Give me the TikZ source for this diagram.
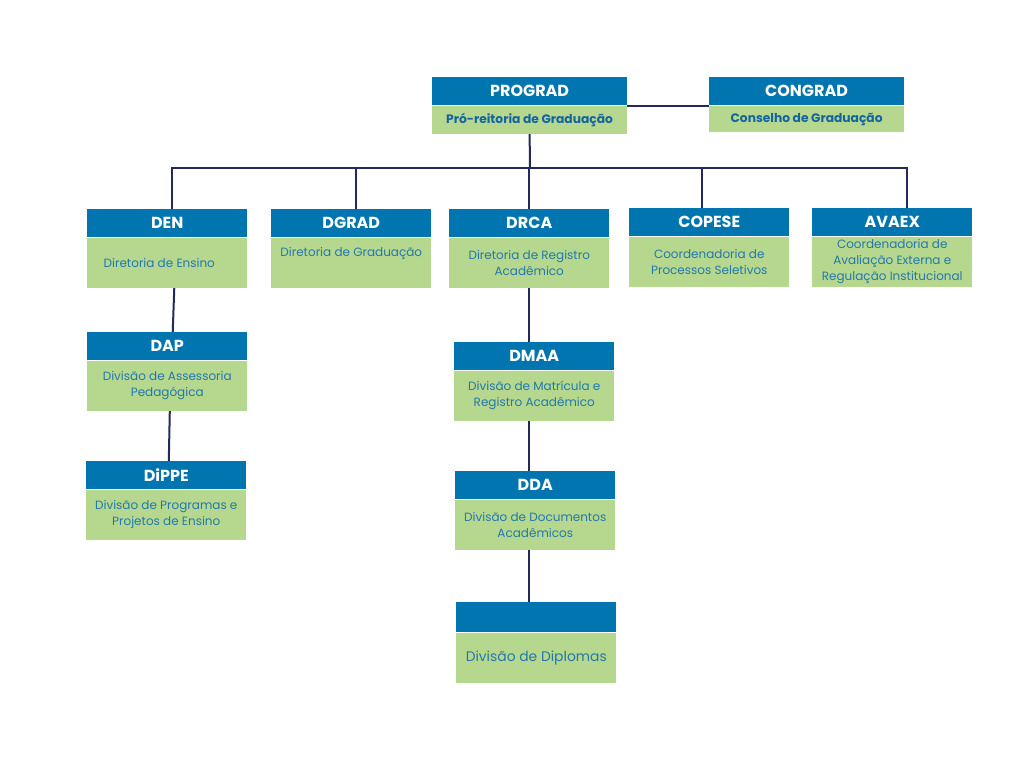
\documentclass[tikz,border=0pt]{standalone}
\usepackage{fontspec}
\setmainfont{Poppins}
\definecolor{hdrblue}{RGB}{0,117,176}
\definecolor{bodygreen}{RGB}{182,216,142}
\definecolor{txtblue}{RGB}{35,120,172}
\definecolor{subblue}{RGB}{20,100,160}
\definecolor{linkblue}{RGB}{35,40,95}
\tikzset{
	hdr/.style={fill=hdrblue, text=white, font=\bfseries\fontsize{12}{14}\selectfont,
		minimum width=120pt, minimum height=21pt, inner sep=0pt, anchor=north west},
	body/.style={fill=bodygreen, text=txtblue, font=\fontsize{9}{12}\selectfont, align=center,
		minimum width=120pt, minimum height=37.5pt, inner sep=0pt, anchor=north west},
	link/.style={draw=linkblue, line width=1.5pt}
}
\begin{document}
\begin{tikzpicture}[x=0.75pt,y=-0.75pt]
		\fill[white] (0,0) rectangle (1024,768);
		\useasboundingbox (0,0) rectangle (1024,768);
		% top level
		\node[hdr, minimum width=146pt] (prograd) at (432,77) {PROGRAD};
		\node[body, minimum width=146pt, minimum height=21pt, text=subblue, font=\bfseries\fontsize{9.2}{10}\selectfont] (prograd-b) at (prograd.south west) {Pró-reitoria de Graduação};
		\node[hdr, minimum width=146pt] (congrad) at (709,77) {CONGRAD};
		\node[body, minimum width=146pt, minimum height=20pt, text=subblue, font=\bfseries\fontsize{9.2}{10}\selectfont] (congrad-b) at (congrad.south west) {Conselho de Graduação};
		% directorates
		\node[hdr] (den) at (87,209) {DEN};
		\node[body] (den-b) at (den.south west) {\hspace*{-12pt}Diretoria de Ensino};
		\node[hdr] (dgrad) at (271,209) {DGRAD};
		\node[body, text depth=17pt] (dgrad-b) at (dgrad.south west) {Diretoria de Graduação};
		\node[hdr] (drca) at (449,209) {DRCA};
		\node[body] (drca-b) at (drca.south west) {Diretoria de Registro\\Acadêmico};
		\node[hdr] (copese) at (629,208) {COPESE};
		\node[body] (copese-b) at (copese.south west) {Coordenadoria de\\Processos Seletivos};
		\node[hdr] (avaex) at (812,208) {AVAEX};
		\node[body] (avaex-b) at (avaex.south west) {Coordenadoria de\\Avaliação Externa e\\Regulação Institucional};
		% divisions
		\node[hdr] (dap) at (87,332) {DAP};
		\node[body] (dap-b) at (dap.south west) {Divisão de Assessoria\\Pedagógica};
		\node[hdr] (dippe) at (86,461) {DiPPE};
		\node[body] (dippe-b) at (dippe.south west) {Divisão de Programas e\\Projetos de Ensino};
		\node[hdr] (dmaa) at (454,342) {DMAA};
		\node[body] (dmaa-b) at (dmaa.south west) {Divisão de Matrícula e\\Registro Acadêmico};
		\node[hdr] (dda) at (455,471) {DDA};
		\node[body] (dda-b) at (dda.south west) {Divisão de Documentos\\Acadêmicos};
		\node[hdr, minimum height=22.5pt] (diplomas) at (456,602) {};
		\node[body, font=\fontsize{10.4}{12}\selectfont] (diplomas-b) at (diplomas.south west) {Divisão de Diplomas};
		% connectors
		\coordinate (bus) at (530,168);
		\draw[link] (prograd.south east) -- (congrad.south west);
		\draw[link] (prograd-b.south) -- (bus);
		\draw[link] ([xshift=3.4pt]den.north) -- ([xshift=3.4pt]den.north |- bus)
			-- ([xshift=10.9pt]avaex.north |- bus) -- ([xshift=10.9pt]avaex.north);
		\draw[link] ([xshift=3.75pt]dgrad.north) -- ([xshift=3.75pt]dgrad.north |- bus);
		\draw[link] (drca.north) -- (drca.north |- bus);
		\draw[link] ([xshift=-5.25pt]copese.north) -- ([xshift=-5.25pt]copese.north |- bus);
		\draw[link] ([xshift=5.25pt]den-b.south) -- ([xshift=4.1pt]dap.north);
		\draw[link] ([xshift=1.9pt]dap-b.south) -- ([xshift=1.9pt]dippe.north);
		\draw[link] (drca-b.south) -- (drca-b.south |- dmaa.north);
		\draw[link] (drca-b.south |- dmaa-b.south) -- (drca-b.south |- dda.north);
		\draw[link] (drca-b.south |- dda-b.south) -- (drca-b.south |- diplomas.north);
\end{tikzpicture}
\end{document}
